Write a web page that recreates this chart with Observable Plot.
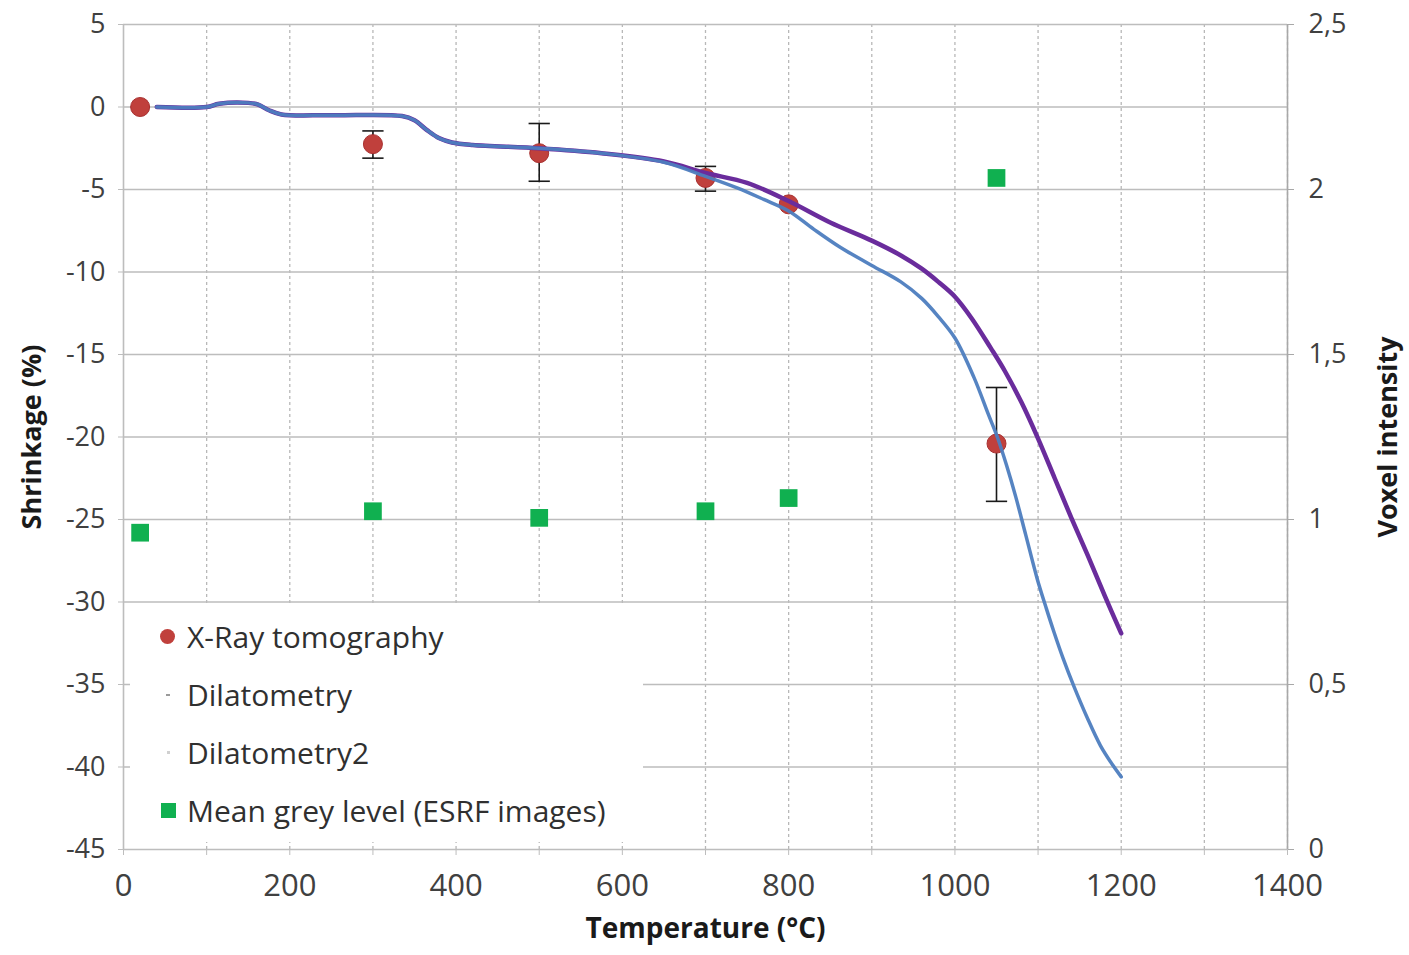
<!DOCTYPE html>
<html>
<head>
<meta charset="utf-8">
<script src="https://cdn.jsdelivr.net/npm/d3@7"></script>
<script src="https://cdn.jsdelivr.net/npm/@observablehq/plot@0.6"></script>
<style>
  html, body { margin: 0; padding: 0; background: #fff; }
  #wrap { position: relative; width: 1409px; height: 955px; }
  #legend { position: absolute; left: 130px; top: 606px; width: 513px; height: 236px; background: #fff;
            font-family: "Open Sans", sans-serif; font-size: 30px; color: #303030; }
  .row { position: absolute; left: 0; height: 40px; display: flex; align-items: center; }
  .row span.t { position: absolute; left: 57px; white-space: nowrap; }
  .mk { position: absolute; }
</style>
</head>
<body>
<div id="wrap"></div>
<script>
// ---------- data ----------
const tempTicks = [0, 200, 400, 600, 800, 1000, 1200, 1400];
const shrinkTicks = [5, 0, -5, -10, -15, -20, -25, -30, -35, -40, -45];
const voxelTicks = [0, 0.5, 1, 1.5, 2, 2.5];

// X-Ray tomography (shrinkage %, with error bars)
const xrayT   = [20, 300, 500, 700, 800, 1050];
const xrayS   = [0, -2.25, -2.8, -4.3, -5.9, -20.4];
const xrayLo  = [0, -3.1, -4.5, -5.1, -5.9, -23.9];
const xrayHi  = [0, -1.45, -1.0, -3.6, -5.9, -17.0];

// Dilatometry (purple)
const dil1T = [40, 100, 115, 150, 162, 175, 190, 250, 335, 350, 365, 380, 395, 420, 500, 575, 650, 700, 750, 800, 850, 900, 935, 960, 980, 1000, 1020, 1043, 1060, 1080, 1100, 1120, 1140, 1160, 1180, 1200];
const dil1S = [0, 0, 0.2, 0.25, 0.15, -0.2, -0.45, -0.5, -0.55, -0.8, -1.4, -1.9, -2.15, -2.3, -2.5, -2.8, -3.3, -4.0, -4.6, -5.7, -7.0, -8.1, -9.0, -9.8, -10.6, -11.5, -12.8, -14.6, -16.0, -17.9, -20.1, -22.5, -24.9, -27.2, -29.6, -31.9];

// Dilatometry2 (blue)
const dil2T = [40, 100, 115, 150, 162, 175, 190, 250, 335, 350, 365, 380, 395, 420, 500, 575, 650, 700, 738, 770, 800, 830, 862, 900, 935, 960, 980, 1000, 1023, 1040, 1051, 1062, 1073, 1085, 1099, 1110, 1119, 1130, 1143, 1159, 1175, 1190, 1200];
const dil2S = [0, 0, 0.2, 0.25, 0.15, -0.2, -0.45, -0.5, -0.55, -0.8, -1.4, -1.9, -2.15, -2.3, -2.5, -2.8, -3.35, -4.2, -4.9, -5.6, -6.3, -7.4, -8.5, -9.6, -10.6, -11.6, -12.7, -14.0, -16.4, -18.6, -20.0, -21.7, -23.6, -25.9, -28.6, -30.4, -31.8, -33.4, -35.1, -37.0, -38.7, -39.9, -40.6];

// Mean grey level (voxel intensity, right axis)
const greyT = [20, 300, 500, 700, 800, 1050];
const greyV = [0.96, 1.025, 1.005, 1.025, 1.065, 2.035];

// ---------- helpers ----------
// right axis (voxel intensity 0..2.5) shares the frame with left axis (-45..5)
const vToS = v => -45 + v * 20;
const sToV = s => (s + 45) / 20;
const fmtComma = v => String(v).replace(".", ",");

const xray = xrayT.map((t, i) => ({t, s: xrayS[i], lo: xrayLo[i], hi: xrayHi[i]}));
const xrayErr = xray.filter(d => d.lo !== d.hi);
const dil1 = dil1T.map((t, i) => ({t, s: dil1S[i]}));
const dil2 = dil2T.map((t, i) => ({t, s: dil2S[i]}));
const grey = greyT.map((t, i) => ({t, s: vToS(greyV[i])}));

const capSymbol = { draw(ctx, size) { const w = Math.sqrt(size); ctx.moveTo(-w, 0); ctx.lineTo(w, 0); } };

const gridX = d3.range(100, 1401, 100);
const gridY = shrinkTicks;
const labelFont = '"Open Sans", sans-serif';

const chart = Plot.plot({
  width: 1409,
  height: 955,
  marginLeft: 123,
  marginRight: 122,
  marginTop: 24,
  marginBottom: 106,
  style: { fontFamily: '"Open Sans", sans-serif', color: "#404040", background: "#fff" },
  x: { domain: [0, 1400] },
  y: { domain: [-45, 5] },
  marks: [
    Plot.ruleX(gridX, { stroke: "#b8b8b8", strokeWidth: 1.3, strokeDasharray: "3,3" }),
    Plot.ruleY(gridY, { stroke: "#bdbdbd", strokeWidth: 1.6 }),
    Plot.ruleX([0], { stroke: "#bdbdbd", strokeWidth: 1.6 }),
    Plot.ruleX([1400], { stroke: "#a8a8a8", strokeWidth: 1.6 }),
    Plot.axisY({ ticks: shrinkTicks, tickSize: 5, tickPadding: 13, fontSize: 27, stroke: "#bdbdbd", tickFormat: d => String(d), label: null }),
    Plot.axisY({ anchor: "right", ticks: voxelTicks.map(vToS), tickSize: 6, tickPadding: 15, fontSize: 27, stroke: "#a8a8a8", tickFormat: d => fmtComma(+sToV(d).toFixed(1)), label: null }),
    Plot.axisX({ ticks: tempTicks, tickSize: 6, tickPadding: 18, fontSize: 31, stroke: "#bdbdbd", tickFormat: d => String(d), label: null }),
    Plot.axisX({ ticks: d3.range(100, 1400, 200), tickSize: 6, stroke: "#bdbdbd", tickFormat: () => "", label: null }),
    // error bars
    Plot.link(xrayErr, { x1: "t", x2: "t", y1: "lo", y2: "hi", stroke: "#1a1a1a", strokeWidth: 1.6 }),
    Plot.dot(xrayErr, { x: "t", y: "lo", symbol: capSymbol, r: 6, stroke: "#1a1a1a", strokeWidth: 1.6 }),
    Plot.dot(xrayErr, { x: "t", y: "hi", symbol: capSymbol, r: 6, stroke: "#1a1a1a", strokeWidth: 1.6 }),
    // tomography points
    Plot.dot(xray, { x: "t", y: "s", r: 9.5, fill: "#c0403c", stroke: "#a83030", strokeWidth: 1 }),
    // dilatometry curves
    Plot.line(dil1, { x: "t", y: "s", stroke: "#6a2c9c", strokeWidth: 4.5, curve: "catmull-rom" }),
    Plot.line(dil2, { x: "t", y: "s", stroke: "#4d7dbf", strokeWidth: 3.5, curve: "catmull-rom", strokeOpacity: 0.95 }),
    // mean grey level
    Plot.dot(grey, { x: "t", y: "s", symbol: "square", r: 10, fill: "#10b050" }),
    // axis titles
    Plot.text(["Shrinkage (%)"], { frameAnchor: "left", textAnchor: "middle", rotate: -90, dx: -91, fontSize: 27, fontWeight: "bold", fill: "#1a1a1a", fontFamily: labelFont }),
    Plot.text(["Voxel intensity"], { frameAnchor: "right", textAnchor: "middle", rotate: -90, dx: 101, fontSize: 27, fontWeight: "bold", fill: "#1a1a1a", fontFamily: labelFont }),
    Plot.text(["Temperature (°C)"], { frameAnchor: "bottom", textAnchor: "middle", dy: 88, fontSize: 28, fontWeight: "bold", fill: "#1a1a1a", fontFamily: labelFont })
  ]
});

const wrap = document.getElementById("wrap");
wrap.appendChild(chart);

// legend (HTML overlay inside the plot area)
const legendItems = [
  { label: "X-Ray tomography", kind: "circle", color: "#c0403c" },
  { label: "Dilatometry", kind: "dash", color: "#9a9a9a" },
  { label: "Dilatometry2", kind: "dot", color: "#d0d0d0" },
  { label: "Mean grey level (ESRF images)", kind: "square", color: "#10b050" }
];
const legend = document.createElement("div");
legend.id = "legend";
legendItems.forEach((it, i) => {
  const row = document.createElement("div");
  row.className = "row";
  row.style.top = (10 + i * 58) + "px";
  const mk = document.createElement("div");
  mk.className = "mk";
  if (it.kind === "circle") Object.assign(mk.style, { left: "30px", width: "15px", height: "15px", borderRadius: "50%", background: it.color, top: "13px" });
  if (it.kind === "square") Object.assign(mk.style, { left: "31px", width: "15px", height: "15px", background: it.color, top: "13px" });
  if (it.kind === "dash") Object.assign(mk.style, { left: "36px", width: "4px", height: "2px", background: it.color, top: "20px" });
  if (it.kind === "dot") Object.assign(mk.style, { left: "37px", width: "3px", height: "3px", background: it.color, top: "19px" });
  row.appendChild(mk);
  const t = document.createElement("span");
  t.className = "t";
  t.textContent = it.label;
  row.appendChild(t);
  legend.appendChild(row);
});
wrap.appendChild(legend);
</script>
</body>
</html>
